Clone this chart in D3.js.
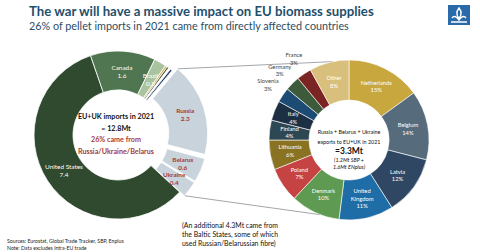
<!DOCTYPE html>
<html>
<head>
<meta charset="utf-8">
<style>
  body { margin: 0; background: #fff; }
  svg { display: block; font-family: Lato, "Open Sans", sans-serif; }
</style>
<script src="https://cdn.jsdelivr.net/npm/d3@7"></script>
</head>
<body>
<svg id="chart" width="480" height="252"></svg>
<script>
// left donut: EU+UK pellet imports 2021 (Mt)
var importCountries = ["Russia", "Belarus", "Ukraine", "United States", "Canada", "Brazil", "o1", "o2", "o3", "o4"];
var importValues = [2.3, 0.6, 0.4, 7.4, 1.6, 0.3, 0.05, 0.05, 0.05, 0.05];
var importColors = ["#c9d3db", "#c9d3db", "#c9d3db", "#2f4a2e", "#4f7551", "#a9c39f", "#cdb66b", "#5e5a2e", "#ffffff", "#1f3f66"];
var importLabelled = ["Russia", "Belarus", "Ukraine", "United States", "Canada", "Brazil"];
var affected = ["Russia", "Belarus", "Ukraine"];

// right donut: where Russia+Belarus+Ukraine exports went (%)
var destCountries = ["Netherlands", "Belgium", "Latvia", "United Kingdom", "Denmark", "Poland", "Lithuania", "Finland", "Italy", "Slovenia", "Germany", "France", "Other"];
var destShares = [15, 14, 12, 11, 10, 7, 6, 4, 4, 3, 3, 3, 8];
var destColors = ["#c8a73e", "#566b7c", "#2f4762", "#1f6da6", "#5f9a52", "#c54443", "#8a7223", "#2d4753", "#1d2f42", "#1c4b73", "#3d5b3b", "#7b2424", "#d9bf7c"];
var destOutside = ["Slovenia", "Germany", "France"];

var svg = d3.select("#chart");
var rad = Math.PI / 180;

// title
svg.append("text").attr("x", 29).attr("y", 16)
  .attr("font-size", 13.2).attr("font-weight", "bold").attr("fill", "#1f4f6d")
  .text("The war will have a massive impact on EU biomass supplies");
svg.append("text").attr("x", 29).attr("y", 29.5)
  .attr("font-size", 10.8).attr("fill", "#2c4d63")
  .text("26% of pellet imports in 2021 came from directly affected countries");

// logo
var logo = svg.append("g").attr("transform", "translate(448,5)");
logo.append("rect").attr("width", 22).attr("height", 20).attr("fill", "#2a6aa8");
logo.append("path").attr("d", "M11,3 C8,7 8,10 11,13 C14,10 14,7 11,3 Z M4,13 C6,10 9,12 11,15 C13,12 16,10 18,13 M3,17 L19,17")
  .attr("fill", "none").attr("stroke", "#fff").attr("stroke-width", 1.4);

// ---- left donut
var L = { x: 118, y: 135, r0: 45, r1: 84, pop: 6 };
var startL = 40 * rad;
var pieL = d3.pie().sort(null).startAngle(startL).endAngle(startL + 2 * Math.PI);
var arcsL = pieL(importValues);
var arcL = d3.arc().innerRadius(L.r0).outerRadius(L.r1);
var gL = svg.append("g").attr("transform", "translate(" + L.x + "," + L.y + ")");

function popOffset(d, i) {
  if (affected.indexOf(importCountries[i]) < 0) return [0, 0];
  var a = (d.startAngle + d.endAngle) / 2;
  return [Math.sin(a) * L.pop, -Math.cos(a) * L.pop];
}

gL.selectAll("path").data(arcsL).enter().append("path")
  .attr("d", arcL)
  .attr("transform", function(d, i) { var o = popOffset(d, i); return "translate(" + o[0] + "," + o[1] + ")"; })
  .attr("fill", function(d, i) { return importColors[i]; })
  .attr("stroke", "#fff").attr("stroke-width", 0.8);

var labL = gL.selectAll("text.lab").data(arcsL.filter(function(d, i) { return importLabelled.indexOf(importCountries[i]) >= 0; }))
  .enter().append("text").attr("class", "lab")
  .attr("transform", function(d) {
    var c = arcL.centroid(d), o = popOffset(d, d.index);
    return "translate(" + (c[0] + o[0]) + "," + (c[1] + o[1]) + ")";
  })
  .attr("text-anchor", "middle").attr("font-size", 6.4)
  .attr("font-weight", function(d) { return affected.indexOf(importCountries[d.index]) >= 0 ? "bold" : "normal"; })
  .attr("fill", function(d) { return affected.indexOf(importCountries[d.index]) >= 0 ? "#a53a3a" : "#fff"; });
labL.append("tspan").attr("x", 0).attr("y", -1).text(function(d) { return importCountries[d.index]; });
labL.append("tspan").attr("x", 0).attr("y", 7).text(function(d) { return d.value; });

var centerL = [
  { t: "EU+UK imports in 2021", c: "#111" },
  { t: "= 12.8Mt", c: "#111" },
  { t: "26% came from", c: "#a53a3a" },
  { t: "Russia/Ukraine/Belarus", c: "#a53a3a" }
];
gL.selectAll("text.ctr").data(centerL).enter().append("text").attr("class", "ctr")
  .attr("x", -2).attr("y", function(d, i) { return -16 + i * 11.5; })
  .attr("text-anchor", "middle").attr("font-size", 7.2).attr("font-weight", "bold")
  .attr("fill", function(d) { return d.c; }).text(function(d) { return d.t; });

// ---- right donut
var R = { x: 349, y: 140, r0: 40, r1: 80 };
var pieR = d3.pie().sort(null);
var arcsR = pieR(destShares);
var arcR = d3.arc().innerRadius(R.r0).outerRadius(R.r1);
var gR = svg.append("g").attr("transform", "translate(" + R.x + "," + R.y + ")");

gR.selectAll("path").data(arcsR).enter().append("path")
  .attr("d", arcR)
  .attr("fill", function(d, i) { return destColors[i]; })
  .attr("stroke", "#fff").attr("stroke-width", 0.6);

function destLines(i) {
  var n = destCountries[i];
  if (n === "United Kingdom") return ["United", "Kingdom", destShares[i] + "%"];
  return [n, destShares[i] + "%"];
}
var labR = gR.selectAll("text.lab").data(arcsR).enter().append("text").attr("class", "lab")
  .attr("transform", function(d, i) {
    var out = destOutside.indexOf(destCountries[i]) >= 0;
    var a = (d.startAngle + d.endAngle) / 2;
    var r = out ? 98 : (R.r0 + R.r1) / 2;
    return "translate(" + (Math.sin(a) * r) + "," + (-Math.cos(a) * r) + ")";
  })
  .attr("text-anchor", "middle").attr("font-size", 5.8)
  .attr("fill", function(d, i) { return destOutside.indexOf(destCountries[i]) >= 0 ? "#444" : "#fff"; });
labR.each(function(d, i) {
  var lines = destLines(i), t = d3.select(this);
  lines.forEach(function(s, k) {
    t.append("tspan").attr("x", 0).attr("y", (k - (lines.length - 1) / 2) * 7.5 + 2).text(s);
  });
});

var centerR = [
  { t: "Russia + Belarus + Ukraine", s: 5.4, w: "normal", st: "normal", dy: -6 },
  { t: "exports to EU+UK in 2021", s: 5.4, w: "normal", st: "normal", dy: 4 },
  { t: "=3.3Mt", s: 8.5, w: "bold", st: "normal", dy: 14 },
  { t: "(1.2Mt SBP +", s: 5.4, w: "normal", st: "italic", dy: 22 },
  { t: "1.6Mt ENplus)", s: 5.4, w: "normal", st: "italic", dy: 29 }
];
gR.selectAll("text.ctr").data(centerR).enter().append("text").attr("class", "ctr")
  .attr("x", 0).attr("y", function(d) { return d.dy; })
  .attr("text-anchor", "middle").attr("font-size", function(d) { return d.s; })
  .attr("font-weight", function(d) { return d.w; }).attr("font-style", function(d) { return d.st; })
  .attr("fill", "#111").text(function(d) { return d.t; });

// connector lines from the popped-out slices to the right donut
var first = arcsL[0], last = arcsL[2];
var o0 = popOffset(first, 0), o2 = popOffset(last, 2);
var pTop = [L.x + Math.sin(first.startAngle) * L.r1 + o0[0], L.y - Math.cos(first.startAngle) * L.r1 + o0[1]];
var pBot = [L.x + Math.sin(last.endAngle) * L.r1 + o2[0], L.y - Math.cos(last.endAngle) * L.r1 + o2[1]];
var qTop = [R.x + Math.sin(-11.5 * rad) * R.r1, R.y - Math.cos(-11.5 * rad) * R.r1];
var qBot = [R.x + Math.sin(201 * rad) * R.r1, R.y - Math.cos(201 * rad) * R.r1];
[[pTop, qTop], [pBot, qBot]].forEach(function(p) {
  svg.insert("line", "g").attr("x1", p[0][0]).attr("y1", p[0][1]).attr("x2", p[1][0]).attr("y2", p[1][1])
    .attr("stroke", "#8a8f96").attr("stroke-width", 0.8);
});

// notes
var note = ["(An additional 4.3Mt came from", "the Baltic States, some of which", "used Russian/Belarussian fibre)"];
svg.selectAll("text.note").data(note).enter().append("text").attr("class", "note")
  .attr("x", 182).attr("y", function(d, i) { return 228 + i * 9; })
  .attr("font-size", 6.9).attr("fill", "#111").text(function(d) { return d; });
var src = ["Sources: Eurostat, Global Trade Tracker, SBP, Enplus", "Note: Data excludes intra-EU trade"];
svg.selectAll("text.src").data(src).enter().append("text").attr("class", "src")
  .attr("x", 7).attr("y", function(d, i) { return 243 + i * 6.5; })
  .attr("font-size", 5.2).attr("fill", "#222").text(function(d) { return d; });
</script>
</body>
</html>
